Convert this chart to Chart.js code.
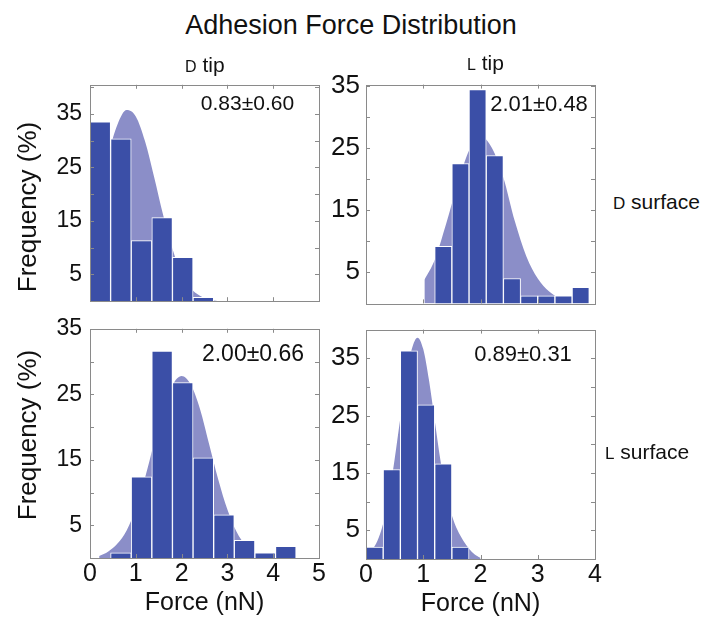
<!DOCTYPE html>
<html>
<head>
<meta charset="utf-8">
<script src="https://cdn.jsdelivr.net/npm/chart.js@4/dist/chart.umd.min.js"></script>
<style>
  body { margin:0; background:#fff; }
  #page { position:relative; width:702px; height:619px; overflow:hidden; font-family:"Liberation Sans", Arial, sans-serif; color:#111; }
  #page canvas { position:absolute; }
  .lbl { position:absolute; white-space:nowrap; }
</style>
</head>
<body>
<div id="page"></div>
<script>
// --------------------
// DATA (force in nN, frequency in %)
// --------------------
const xTickLabels = [0, 1, 2, 3, 4, 5];
const yTickLabels = [5, 15, 25, 35];

// D tip on D surface
const dTipDSurfBins = [0.225, 0.675, 1.125, 1.575, 2.025, 2.475];
const dTipDSurfFreq = [33.5, 30.3, 11.3, 15.6, 8.2, 0.7];
const dTipDSurfFitX = [0, 0.2, 0.4, 0.6, 0.8, 1.0, 1.2, 1.4, 1.6, 1.8, 2.0, 2.2, 2.4, 2.6, 2.8];
const dTipDSurfFitY = [13.4, 20.3, 27.4, 33.0, 35.7, 34.5, 29.9, 23.2, 16.0, 9.8, 5.0, 2.4, 1.0, 0.3, 0];

// L tip on D surface
const lTipDSurfBins = [1.35, 1.65, 1.95, 2.25, 2.55, 2.85, 3.15, 3.45, 3.75];
const lTipDSurfFreq = [9.2, 22.5, 34.4, 23.8, 4.0, 1.2, 1.2, 1.2, 2.6];
const lTipDSurfFitX = [1.02, 1.2, 1.4, 1.6, 1.8, 2.0, 2.2, 2.4, 2.6, 2.8, 3.0, 3.2, 3.4, 3.6];
const lTipDSurfFitY = [3.8, 7.0, 12.8, 19.2, 24.6, 26.9, 25.0, 20.2, 13.2, 7.6, 4.0, 1.9, 0.7, 0];

// D tip on L surface
const dTipLSurfBins = [0.675, 1.125, 1.575, 2.025, 2.475, 2.925, 3.375, 3.825, 4.275];
const dTipLSurfFreq = [0.8, 12.4, 31.6, 26.8, 15.3, 6.6, 2.7, 0.8, 1.8];
const dTipLSurfFitX = [0.2, 0.4, 0.6, 0.8, 1.0, 1.2, 1.4, 1.6, 1.8, 2.0, 2.2, 2.4, 2.6, 2.8, 3.0, 3.2, 3.4, 3.6, 3.8];
const dTipLSurfFitY = [0.3, 1.0, 2.2, 4.2, 7.6, 12.2, 17.6, 22.8, 26.4, 27.8, 26.5, 22.8, 17.4, 12.0, 7.4, 4.0, 1.9, 0.8, 0.2];

// L tip on L surface
const lTipLSurfBins = [0.15, 0.45, 0.75, 1.05, 1.35, 1.65];
const lTipLSurfFreq = [2.1, 15.6, 36.3, 26.9, 16.6, 2.1];
const lTipLSurfFitX = [0, 0.1, 0.2, 0.3, 0.4, 0.5, 0.6, 0.7, 0.8, 0.9, 1.0, 1.1, 1.2, 1.3, 1.4, 1.5, 1.6, 1.7, 1.8, 1.9, 2.0];
const lTipLSurfFitY = [0.8, 1.6, 3.2, 6.2, 11.0, 17.4, 24.6, 31.4, 36.6, 38.6, 36.6, 31.2, 24.2, 17.2, 11.4, 7.6, 5.0, 3.2, 1.8, 0.8, 0.2];

// --------------------
// STYLE / LAYOUT
// --------------------
const FONT = '"Liberation Sans", Arial, sans-serif';
const BAR = '#3b4fa7';
const FIT = '#8b8ec8';
const PL = 90, PT = 20, PR = 12;

Chart.defaults.font.family = FONT;
Chart.defaults.color = '#111';

const panels = [
  { bins:dTipDSurfBins, freq:dTipDSurfFreq, fx:dTipDSurfFitX, fy:dTipDSurfFitY,
    box:[90, 83, 319, 313], xmax:5, ymax:40.4, ySize:23, yPad:8, bottom:false },
  { bins:lTipDSurfBins, freq:lTipDSurfFreq, fx:lTipDSurfFitX, fy:lTipDSurfFitY,
    box:[366, 83, 595, 315], xmax:4, ymax:35.2, ySize:26, yPad:6, bottom:false },
  { bins:dTipLSurfBins, freq:dTipLSurfFreq, fx:dTipLSurfFitX, fy:dTipLSurfFitY,
    box:[90, 327, 319, 558], xmax:5, ymax:35, ySize:23, yPad:8, bottom:true, xSize:25 },
  { bins:lTipLSurfBins, freq:lTipLSurfFreq, fx:lTipLSurfFitX, fy:lTipLSurfFitY,
    box:[366, 328, 595, 559], xmax:4, ymax:40, ySize:26, yPad:6, bottom:true, xSize:25 }
];

// frame + inward tick marks on all four sides
const boxTicks = {
  id:'boxTicks',
  afterDatasetsDraw(chart){
    const {ctx, chartArea:a, scales:{x, y}} = chart;
    ctx.save();
    ctx.strokeStyle = '#8a8a8a';
    ctx.lineWidth = 1;
    ctx.beginPath();
    x.ticks.forEach(t=>{
      if(t.value <= x.min || t.value >= x.max) return;
      const px = Math.round(x.getPixelForValue(t.value)) + 0.5;
      ctx.moveTo(px, a.bottom); ctx.lineTo(px, a.bottom - 4);
      ctx.moveTo(px, a.top); ctx.lineTo(px, a.top + 4);
    });
    y.ticks.forEach(t=>{
      if(t.value % 5 || t.value <= y.min || t.value >= y.max) return;
      const py = Math.round(y.getPixelForValue(t.value)) + 0.5;
      ctx.moveTo(a.left, py); ctx.lineTo(a.left + 4, py);
      ctx.moveTo(a.right, py); ctx.lineTo(a.right - 4, py);
    });
    ctx.stroke();
    ctx.strokeRect(Math.round(a.left) + 0.5, Math.round(a.top) + 0.5,
                   Math.round(a.right - a.left), Math.round(a.bottom - a.top));
    ctx.restore();
  }
};

const page = document.getElementById('page');

function makePanel(p){
  const [l, t, r, b] = p.box;
  const PB = p.bottom ? 60 : 10;
  const cv = document.createElement('canvas');
  cv.width = PL + (r - l) + PR;
  cv.height = PT + (b - t) + PB;
  cv.style.left = (l - PL) + 'px';
  cv.style.top = (t - PT) + 'px';
  page.appendChild(cv);

  new Chart(cv, {
    type:'bar',
    data:{ datasets:[
      { type:'bar', data:p.bins.map((c, i)=>({x:c, y:p.freq[i]})),
        backgroundColor:BAR, borderColor:'#fff', borderWidth:1,
        categoryPercentage:1, barPercentage:1, order:1 },
      { type:'line', data:p.fx.map((v, i)=>({x:v, y:p.fy[i]})),
        fill:'origin', backgroundColor:FIT, borderWidth:0, pointRadius:0,
        cubicInterpolationMode:'monotone', order:2 }
    ]},
    options:{
      responsive:false, animation:false, events:[],
      layout:{ padding:{ left:0, top:PT, right:PR, bottom:0 } },
      plugins:{ legend:{display:false}, tooltip:{enabled:false} },
      scales:{
        x:{ type:'linear', min:0, max:p.xmax, offset:false,
            afterFit: s=>{ s.height = PB; },
            grid:{display:false, drawTicks:false}, border:{display:false},
            ticks:{ display:p.bottom, stepSize:1, autoSkip:false, maxRotation:0, padding:1,
                    font:{size:p.xSize || 25},
                    callback: v=> xTickLabels.includes(v) ? v : '' },
            title:{ display:p.bottom, text:'Force (nN)', font:{size:25}, padding:{top:0, bottom:0} } },
        y:{ type:'linear', min:0, max:p.ymax,
            afterFit: s=>{ s.width = PL; },
            grid:{display:false, drawTicks:false}, border:{display:false},
            ticks:{ stepSize:5, autoSkip:false, includeBounds:false, padding:p.yPad,
                    font:{size:p.ySize},
                    callback: v=> yTickLabels.includes(v) ? v : '' } }
      }
    },
    plugins:[boxTicks]
  });
}
panels.forEach(makePanel);

// --------------------
// PAGE TEXT (baseline positioned)
// --------------------
function label(html, x, baseline, size, align){
  const el = document.createElement('div');
  el.className = 'lbl';
  el.innerHTML = html;
  el.style.fontSize = size + 'px';
  el.style.lineHeight = size + 'px';
  el.style.left = x + 'px';
  el.style.top = (baseline - 0.8465 * size) + 'px';
  if(align === 'center') el.style.transform = 'translateX(-50%)';
  page.appendChild(el);
}
function yTitle(cx, cy){
  const el = document.createElement('div');
  el.className = 'lbl';
  el.textContent = 'Frequency (%)';
  el.style.fontSize = '26px';
  el.style.lineHeight = '26px';
  el.style.left = cx + 'px';
  el.style.top = cy + 'px';
  el.style.transform = 'translate(-50%,-50%) rotate(-90deg)';
  page.appendChild(el);
}

label('Adhesion Force Distribution', 351, 35, 27, 'center');
label('<span style="font-size:16px">D</span> tip', 185, 71.5, 21);
label('<span style="font-size:16px">L</span> tip', 467, 69.5, 21);
label('<span style="font-size:17px">D</span> surface', 613, 209, 21);
label('<span style="font-size:17px">L</span> surface', 605, 459, 21);

label('0.83±0.60', 247.5, 110, 21, 'center');
label('2.01±0.48', 539, 111.5, 22, 'center');
label('2.00±0.66', 253, 361.5, 23, 'center');
label('0.89±0.31', 523, 361.5, 22, 'center');

yTitle(27, 207);
yTitle(27, 435);
</script>
</body>
</html>
